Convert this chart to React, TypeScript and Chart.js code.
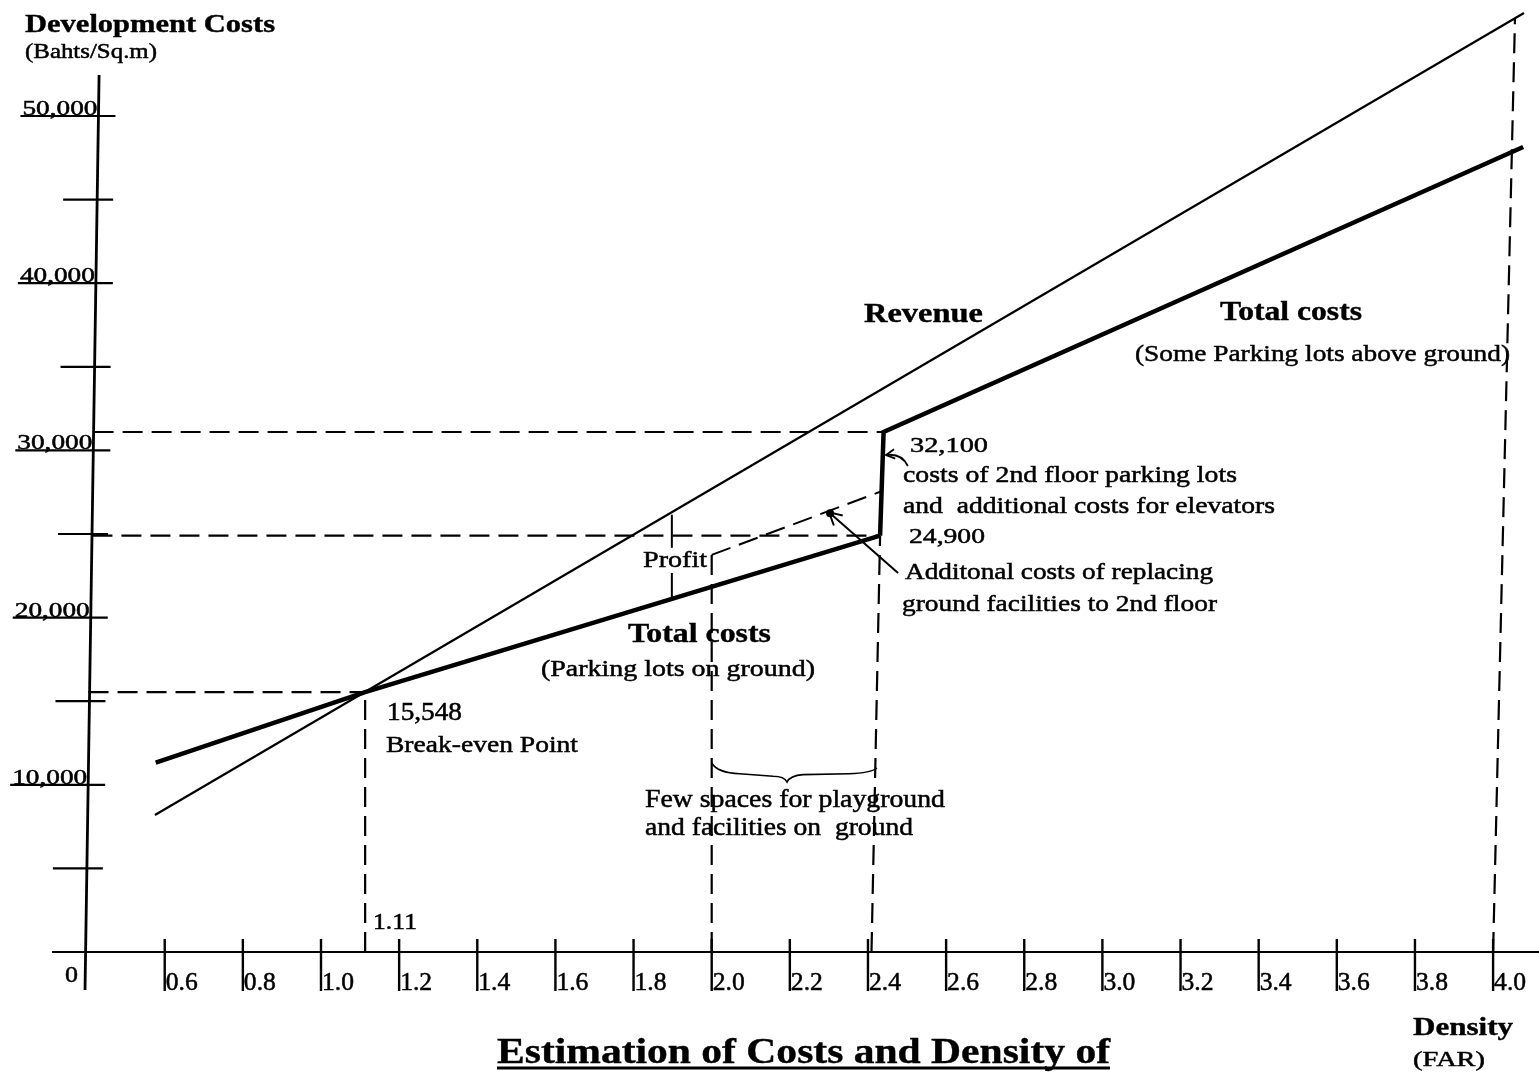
import React, { useEffect, useRef } from "react";
import { Chart, registerables } from "chart.js";

Chart.register(...registerables);

const W = 1539;
const H = 1078;

// value range covered by the whole canvas
const X_MIN = 0.1784;
const X_MAX = 4.1175;
const Y_MIN = -7536;
const Y_MAX = 56938;

// ticks
const xTickValues = [0.6, 0.8, 1.0, 1.2, 1.4, 1.6, 1.8, 2.0, 2.2, 2.4, 2.6, 2.8, 3.0, 3.2, 3.4, 3.6, 3.8, 4.0];
const xTickLabels = ["0.6", "0.8", "1.0", "1.2", "1.4", "1.6", "1.8", "2.0", "2.2", "2.4", "2.6", "2.8", "3.0", "3.2", "3.4", "3.6", "3.8", "4.0"];
const yMajorValues = [10000, 20000, 30000, 40000, 50000];
const yMajorLabels = ["10,000", "20,000", "30,000", "40,000", "50,000"];
const yMinorValues = [5000, 15000, 25000, 35000, 45000];

// axes geometry (hand-drawn, slightly slanted y axis)
const yAxisX = [0.432, 0.396];
const yAxisY = [52450, -2273];
const xAxisStartX = 0.3115;

// series
const revenueX = [0.575, 4.079];
const revenueY = [8194, 56160];
const groundCostX = [0.577, 1.113, 2.431];
const groundCostY = [11322, 15548, 24898];
const aboveCostX = [2.431, 2.44, 4.077];
const aboveCostY = [24898, 31100, 48146];
const replaceCostX = [2.0, 2.436];
const replaceCostY = [23750, 27570];
const profitX = [1.898, 1.898];
const profitY = [26150, 21110];
const breakEvenX = 1.113;
const breakEvenY = 15548;
const replaceDotX = 2.303;
const replaceDotY = 26236;

// dashed guide lines
const guideStartX = [0.405, 0.415, 0.418, 1.113, 2.0, 2.409, 4.0];
const guideStartY = [15548, 24898, 31100, 0, 0, 0, 0];
const guideEndX = [1.113, 2.431, 2.44, 1.113, 2.0, 2.431, 4.056];
const guideEndY = [15548, 24898, 31100, 15548, 23750, 24898, 55800];

// arrows (from, to) and brace
const arrow1 = { fx: 2.477, fy: 22667, tx: 2.303, ty: 26236 };
const arrow2 = { fx: 2.502, fy: 29067, tx: 2.446, ty: 29725 };
const braceX = [2.0, 2.193, 2.423];
const braceY = [11304, 10167, 11005];

type TextItem = { s: string; l: number; r: number; b: number; size: number; bold?: boolean; bg?: boolean };
const texts: TextItem[] = [
  { s: "Development Costs", l: 25, r: 275, b: 32, size: 26, bold: true },
  { s: "(Bahts/Sq.m)", l: 25, r: 157, b: 58, size: 22 },
  { s: "Revenue", l: 864, r: 983, b: 322, size: 28, bold: true },
  { s: "Total costs", l: 1220, r: 1362, b: 320, size: 28, bold: true },
  { s: "(Some Parking lots above ground)", l: 1135, r: 1510, b: 361, size: 24 },
  { s: "Total costs", l: 628, r: 771, b: 642, size: 28, bold: true },
  { s: "(Parking lots on ground)", l: 541, r: 815, b: 676, size: 24 },
  { s: "Profit", l: 643, r: 707, b: 567, size: 24, bg: true },
  { s: "32,100", l: 910, r: 988, b: 452, size: 22 },
  { s: "costs of 2nd floor parking lots", l: 903, r: 1237, b: 482, size: 23 },
  { s: "and  additional costs for elevators", l: 903, r: 1275, b: 513, size: 23 },
  { s: "24,900", l: 909, r: 985, b: 543, size: 22 },
  { s: "Additonal costs of replacing", l: 905, r: 1213, b: 579, size: 23 },
  { s: "ground facilities to 2nd floor", l: 902, r: 1217, b: 611, size: 24 },
  { s: "15,548", l: 387, r: 462, b: 720, size: 25 },
  { s: "Break-even Point", l: 386, r: 578, b: 752, size: 24 },
  { s: "Few spaces for playground", l: 645, r: 945, b: 807, size: 26 },
  { s: "and facilities on  ground", l: 645, r: 913, b: 835, size: 26 },
  { s: "1.11", l: 373, r: 417, b: 929, size: 24 },
  { s: "0", l: 65, r: 78, b: 982, size: 23 },
  { s: "Density", l: 1413, r: 1513, b: 1035, size: 26, bold: true },
  { s: "(FAR)", l: 1413, r: 1485, b: 1066, size: 22 },
];
const titleText = "Estimation of Costs and Density of";

const FONT = '"Liberation Serif", "Times New Roman", serif';

function fitText(ctx: CanvasRenderingContext2D, t: TextItem) {
  ctx.save();
  ctx.font = `${t.bold ? "bold " : ""}${t.size}px ${FONT}`;
  const w = ctx.measureText(t.s).width;
  const sx = (t.r - t.l) / w;
  if (t.bg) {
    ctx.fillStyle = "#fff";
    ctx.fillRect(t.l - 2, t.b - t.size * 0.8, t.r - t.l + 4, t.size * 1.05);
  }
  ctx.fillStyle = "#000";
  ctx.strokeStyle = "#000";
  ctx.translate(t.l, t.b);
  ctx.scale(sx, 1);
  ctx.textAlign = "left";
  ctx.textBaseline = "alphabetic";
  ctx.fillText(t.s, 0, 0);
  ctx.lineWidth = t.bold ? 0.4 : 0.5;
  ctx.strokeText(t.s, 0, 0);
  ctx.restore();
}

function seg(ctx: CanvasRenderingContext2D, x1: number, y1: number, x2: number, y2: number) {
  ctx.beginPath();
  ctx.moveTo(x1, y1);
  ctx.lineTo(x2, y2);
  ctx.stroke();
}

function head(ctx: CanvasRenderingContext2D, fx: number, fy: number, tx: number, ty: number, len: number) {
  const a = Math.atan2(ty - fy, tx - fx);
  const sp = 0.5;
  ctx.beginPath();
  ctx.moveTo(tx - len * Math.cos(a - sp), ty - len * Math.sin(a - sp));
  ctx.lineTo(tx, ty);
  ctx.lineTo(tx - len * Math.cos(a + sp), ty - len * Math.sin(a + sp));
  ctx.stroke();
}

const overlay = {
  id: "overlay",
  afterDatasetsDraw(chart: any) {
    const ctx: CanvasRenderingContext2D = chart.ctx;
    const xs = chart.scales.x;
    const ys = chart.scales.y;
    const px = (v: number) => xs.getPixelForValue(v);
    const py = (v: number) => ys.getPixelForValue(v);
    ctx.save();
    ctx.strokeStyle = "#000";
    ctx.fillStyle = "#000";
    ctx.lineCap = "butt";

    // x axis
    ctx.lineWidth = 2.2;
    const y0 = py(0);
    seg(ctx, px(xAxisStartX), y0, W, y0);
    // y axis
    const ax0 = px(yAxisX[0]);
    const ay0 = py(yAxisY[0]);
    const ax1 = px(yAxisX[1]);
    const ay1 = py(yAxisY[1]);
    ctx.lineWidth = 2.8;
    seg(ctx, ax0, ay0, ax1, ay1);
    const axisAt = (yy: number) => ax0 + ((ax1 - ax0) * (yy - ay0)) / (ay1 - ay0);

    // y ticks
    ctx.lineWidth = 2.2;
    yMajorValues.forEach((v, i) => {
      const yy = py(v);
      const ax = axisAt(yy);
      seg(ctx, ax - 78, yy, ax + 17, yy);
      fitText(ctx, { s: yMajorLabels[i], l: ax - 76, r: ax - 1, b: yy - 1, size: 21 });
    });
    ctx.lineWidth = 2.2;
    yMinorValues.forEach((v) => {
      const yy = py(v);
      const ax = axisAt(yy);
      seg(ctx, ax - 34, yy, ax + 16, yy);
    });

    // x ticks
    xTickValues.forEach((v, i) => {
      const xx = px(v);
      ctx.lineWidth = 2.4;
      seg(ctx, xx, y0 - 13, xx, y0 + 39);
      fitText(ctx, { s: xTickLabels[i], l: xx + 1, r: xx + 33, b: y0 + 38, size: 25 });
    });

    // dot
    ctx.beginPath();
    ctx.arc(px(replaceDotX), py(replaceDotY), 4, 0, Math.PI * 2);
    ctx.fill();

    // arrow 1
    ctx.lineWidth = 2;
    const a1f = [px(arrow1.fx), py(arrow1.fy)];
    const a1t = [px(arrow1.tx), py(arrow1.ty)];
    seg(ctx, a1f[0], a1f[1], a1t[0], a1t[1]);
    head(ctx, a1f[0], a1f[1], a1t[0] - 1, a1t[1] - 1, 14);

    // arrow 2 (curved)
    const a2f = [px(arrow2.fx), py(arrow2.fy)];
    const a2t = [px(arrow2.tx), py(arrow2.ty)];
    const cx = a2f[0] - 6;
    const cy = a2t[1] - 2;
    ctx.lineWidth = 1.8;
    ctx.beginPath();
    ctx.moveTo(a2f[0], a2f[1]);
    ctx.quadraticCurveTo(cx, cy, a2t[0], a2t[1]);
    ctx.stroke();
    head(ctx, cx, cy, a2t[0], a2t[1], 10);

    // brace
    const L = [px(braceX[0]), py(braceY[0])];
    const T = [px(braceX[1]), py(braceY[1])];
    const R = [px(braceX[2]), py(braceY[2])];
    const h = T[1] - (L[1] + R[1]) / 2;
    ctx.lineWidth = 1.6;
    ctx.beginPath();
    ctx.moveTo(L[0], L[1]);
    ctx.quadraticCurveTo(L[0] + 6, L[1] + h * 0.6, L[0] + 28, L[1] + h * 0.65);
    ctx.lineTo(T[0] - 14, T[1] - h * 0.35);
    ctx.quadraticCurveTo(T[0] - 3, T[1] - h * 0.35, T[0], T[1]);
    ctx.quadraticCurveTo(T[0] + 3, T[1] - h * 0.4, T[0] + 16, T[1] - h * 0.45);
    ctx.lineTo(R[0] - 28, R[1] + h * 0.35);
    ctx.quadraticCurveTo(R[0] - 6, R[1] + h * 0.3, R[0], R[1]);
    ctx.stroke();

    // texts
    texts.forEach((t) => fitText(ctx, t));

    // title
    fitText(ctx, { s: titleText, l: 497, r: 1110, b: 1063, size: 36, bold: true });
    ctx.lineWidth = 3;
    seg(ctx, 497, 1068, 1110, 1068);

    ctx.restore();
  },
};

function pts(xa: number[], ya: number[]) {
  return xa.map((x, i) => ({ x, y: ya[i] }));
}

export default function App() {
  const ref = useRef<HTMLCanvasElement | null>(null);
  useEffect(() => {
    if (!ref.current) return;
    const base = { showLine: true, pointRadius: 0, borderColor: "#000", fill: false, tension: 0 };
    const datasets: any[] = [
      { ...base, label: "Revenue", data: pts(revenueX, revenueY), borderWidth: 2.2 },
      { ...base, label: "Total costs (Parking lots on ground)", data: pts(groundCostX, groundCostY), borderWidth: 4.5 },
      { ...base, label: "Total costs (Some Parking lots above ground)", data: pts(aboveCostX, aboveCostY), borderWidth: 4.5, borderJoinStyle: "miter" },
      { ...base, label: "Additional costs", data: pts(replaceCostX, replaceCostY), borderWidth: 2, borderDash: [20, 9] },
      { ...base, label: "Profit", data: pts(profitX, profitY), borderWidth: 2 },
      { ...base, label: "Break-even", data: [{ x: breakEvenX, y: breakEvenY }], showLine: false, pointRadius: 0 },
    ];
    guideStartX.forEach((sx, i) => {
      datasets.push({
        ...base,
        label: "guide" + i,
        data: [
          { x: sx, y: guideStartY[i] },
          { x: guideEndX[i], y: guideEndY[i] },
        ],
        borderWidth: 2.2,
        borderDash: [20, 9],
      });
    });
    const chart = new Chart(ref.current, {
      type: "scatter",
      data: { datasets },
      options: {
        animation: false,
        responsive: false,
        maintainAspectRatio: false,
        layout: { padding: 0 },
        plugins: { legend: { display: false }, tooltip: { enabled: false }, title: { display: false } },
        scales: {
          x: { type: "linear", min: X_MIN, max: X_MAX, display: false },
          y: { type: "linear", min: Y_MIN, max: Y_MAX, display: false },
        },
      } as any,
      plugins: [overlay as any],
    });
    return () => chart.destroy();
  }, []);
  return (
    <div style={{ position: "fixed", left: 0, top: 0, width: W, height: H, background: "#fff", overflow: "hidden" }}>
      <canvas ref={ref} width={W} height={H} style={{ display: "block" }} />
    </div>
  );
}
